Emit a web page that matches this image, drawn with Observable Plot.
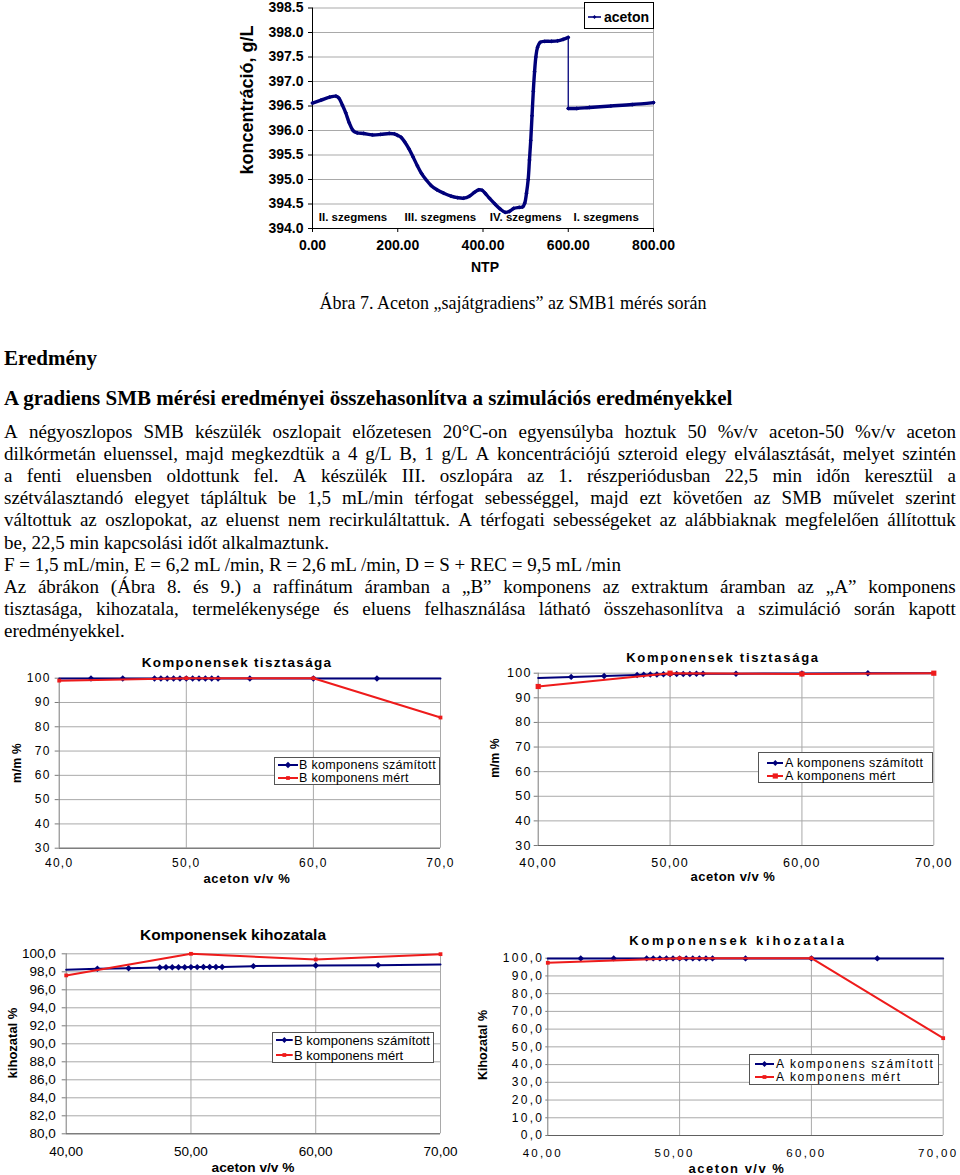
<!DOCTYPE html>
<html><head><meta charset="utf-8">
<script src="https://cdn.jsdelivr.net/npm/d3@7"></script>
<script src="https://cdn.jsdelivr.net/npm/@observablehq/plot@0.6"></script>
<style>
html,body{margin:0;padding:0;background:#fff;}
#page{position:relative;width:960px;height:1175px;overflow:hidden;font-family:"Liberation Serif","Times New Roman",serif;color:#000;}
.abs{position:absolute;white-space:nowrap;}
.c{transform:translate(-50%,-50%);line-height:1;}
.r{transform:translate(-50%,-50%) rotate(-90deg);line-height:1;}
.lt{transform:translate(0,-50%);line-height:1;}
.sans{font-family:"Liberation Sans",Arial,Helvetica,sans-serif;}
.line{position:absolute;left:4px;width:952px;height:22px;line-height:22px;font-size:19px;white-space:nowrap;}
.j{display:flex;justify-content:space-between;}
.legend{position:absolute;background:#fff;box-sizing:border-box;}
</style></head><body><div id="page"></div>
<script>
// ---------- DATA ----------
// Figure 7: aceton concentration along the SMB (NTP)
const ntp = [0,20,40,55,62,70,78,86,95,105,120,140,160,180,192,200,208,216,226,236,246,256,266,278,292,308,325,340,355,368,380,390,398,405,415,428,440,452,462,472,485,493,498,502,506,509,512,515,518,521,524,528,534,545,560,575,588,600,600,620,650,700,750,800];
const aceton = [396.56,396.62,396.68,396.70,396.66,396.52,396.36,396.16,396.00,395.95,395.94,395.91,395.92,395.94,395.93,395.90,395.86,395.77,395.63,395.46,395.28,395.12,395.00,394.88,394.79,394.72,394.66,394.63,394.62,394.66,394.74,394.79,394.78,394.72,394.62,394.50,394.40,394.33,394.35,394.41,394.43,394.44,394.52,394.72,395.00,395.40,395.80,396.30,396.80,397.20,397.50,397.70,397.80,397.82,397.82,397.83,397.86,397.90,396.45,396.45,396.47,396.50,396.53,396.57];
const concTicks = [394,394.5,395,395.5,396,396.5,397,397.5,398,398.5];
const ntpTicks = [0,200,400,600,800];
const segLabels = ["II. szegmens","III. szegmens","IV. szegmens","I. szegmens"];
const segNTP = [95,300,500,689];

// Figures 8-9: aceton v/v % vs purity / yield
const acetonX = [40,42.5,45,47.5,48,48.5,49,49.5,50,50.5,51,51.5,52,52.5,55,60,65,70];
const measX = [40,50,60,70];
const purityBcalc = [99.9,99.9,99.9,99.9,99.9,99.9,99.9,99.9,99.9,99.9,99.9,99.9,99.9,99.9,99.9,99.9,99.9,99.9];
const purityBmeas = [99.0,100.0,100.0,83.8];
const purityAcalc = [98.1,98.5,98.9,99.3,99.4,99.5,99.5,99.6,99.7,99.7,99.7,99.7,99.8,99.8,99.8,99.9,99.95,100.0];
const purityAmeas = [94.6,100.0,99.7,100.0];
const yieldBcalc = [98.22,98.33,98.40,98.48,98.50,98.50,98.51,98.51,98.52,98.52,98.53,98.53,98.54,98.54,98.63,98.70,98.74,98.80];
const yieldBmeas = [97.6,100.0,99.37,99.96];
const yieldAcalc = [99.9,99.9,99.9,99.9,99.9,99.9,99.9,99.9,99.9,99.9,99.9,99.9,99.9,99.9,99.9,99.9,99.9,99.9];
const yieldAmeas = [97.4,100.0,100.0,54.9];
const xTicksSmall = [40,50,60,70];
const purityTicks = [30,40,50,60,70,80,90,100];
const yieldBTicks = [80,82,84,86,88,90,92,94,96,98,100];
const yieldATicks = [0,10,20,30,40,50,60,70,80,90,100];

// ---------- HELPERS ----------
const NAVY = "#00007a", RED = "#ee1b1b", GRID = "#a9a9a9", SANS = "'Liberation Sans', Arial, Helvetica, sans-serif";
const page = document.getElementById("page");
function addText(txt, x, y, o = {}) {
  const d = document.createElement("div");
  d.className = "abs " + (o.serif ? "" : "sans ") + (o.rot ? "r" : (o.left ? "lt" : "c"));
  d.style.left = x + "px"; d.style.top = y + "px";
  d.style.fontSize = (o.fs || 13) + "px";
  d.style.fontWeight = o.bold ? "bold" : "normal";
  d.style.letterSpacing = (o.ls || 0) + "px";
  d.textContent = txt;
  page.appendChild(d);
  return d;
}
function placeSvg(svg, left, top) {
  const w = document.createElement("div");
  w.style.position = "absolute"; w.style.left = left + "px"; w.style.top = top + "px";
  w.appendChild(svg); page.appendChild(w);
}
function symbolPath(name, r) {
  const t = name === "square" ? d3.symbolSquare2 : d3.symbolDiamond2;
  return d3.symbol(t, Math.PI * r * r)();
}
function legend(o) {
  const box = document.createElement("div");
  box.className = "legend";
  Object.assign(box.style, {left: o.l + "px", top: o.t + "px", width: o.w + "px", height: o.h + "px", border: "1px solid " + (o.border || "#555")});
  page.appendChild(box);
  o.rows.forEach(r => {
    const sw = o.sx1 - o.sx0;
    const s = d3.create("svg").attr("width", sw).attr("height", 10)
      .style("position", "absolute").style("left", o.sx0 + "px").style("top", (r.cy - 5) + "px");
    s.append("line").attr("x1", 0).attr("x2", sw).attr("y1", 5).attr("y2", 5).attr("stroke", r.color).attr("stroke-width", o.sw || 2);
    s.append("path").attr("transform", `translate(${sw / 2},5)`).attr("d", symbolPath(r.sym, r.r)).attr("fill", r.color);
    page.appendChild(s.node());
    addText(r.text, o.tx, r.cy, {fs: o.fs, ls: o.ls, bold: o.bold, left: true});
  });
}
const comma = (n) => (d) => d.toFixed(n).replace(".", ",");

// ---------- FIGURE 7 ----------
const series = ntp.map((x, i) => ({x, y: aceton[i]}));
const split = ntp.findIndex((x, i) => i > 0 && x === ntp[i - 1]);   // switching point (vertical jump)
const part = (d, i) => (i >= split ? 2 : 1);
const jump = [{x1: series[split - 1].x, y1: series[split - 1].y, x2: series[split].x, y2: series[split].y}];
const segData = segLabels.map((t, i) => ({t, x: segNTP[i]}));
const fig7 = Plot.plot({
  width: 460, height: 280, marginLeft: 82, marginRight: 37, marginTop: 7.5, marginBottom: 52,
  x: {domain: [0, 800]}, y: {domain: [394, 398.5]},
  style: {fontFamily: SANS, fontSize: "14px", fontWeight: "bold", background: "transparent", color: "#000", overflow: "visible"},
  marks: [
    Plot.gridY(concTicks, {stroke: GRID, strokeOpacity: 1}),
    Plot.ruleX([800], {stroke: GRID}),
    Plot.ruleX([0], {stroke: "#000"}),
    Plot.ruleY([394], {stroke: "#000"}),
    Plot.axisY(concTicks, {tickSize: 4, tickPadding: 5, tickFormat: d3.format(".1f"), label: null, fontWeight: "bold", fontSize: 14}),
    Plot.axisX(ntpTicks, {tickSize: 4, tickPadding: 8, tickFormat: d3.format(".2f"), label: null, fontWeight: "bold", fontSize: 14}),
    Plot.text(segData, {x: "x", y: () => 394.22, text: "t", fontSize: 11.5, fontWeight: "bold"}),
    Plot.link(jump, {x1: "x1", y1: "y1", x2: "x2", y2: "y2", stroke: NAVY, strokeWidth: 1.3}),
    Plot.line(series, {x: "x", y: "y", z: part, stroke: NAVY, strokeWidth: 3.4, curve: "catmull-rom"}),
    Plot.dot(series, {x: "x", y: "y", symbol: "diamond2", r: 1.9, fill: NAVY})
  ]
});
placeSvg(fig7, 230, 0);
addText("koncentráció, g/L", 247, 100, {fs: 18, bold: true, rot: true});
addText("NTP", 485, 267, {fs: 14, bold: true});
legend({l: 584, t: 2, w: 70, h: 27, border: "#000", sx0: 588, sx1: 601, tx: 604, fs: 14, bold: true, sw: 1.6,
  rows: [{cy: 17, color: NAVY, sym: "diamond", r: 1.7, text: "aceton"}]});

// ---------- SMALL CHARTS ----------
function smallChart(o) {
  const calc = acetonX.map((x, i) => ({x, y: o.calc[i]}));
  const meas = measX.map((x, i) => ({x, y: o.meas[i]}));
  const svg = Plot.plot({
    width: o.w, height: o.h, marginLeft: o.ml, marginRight: o.mr, marginTop: o.mt, marginBottom: o.mb,
    x: {domain: [40, 70]}, y: {domain: o.yd},
    style: {fontFamily: SANS, fontSize: o.fs + "px", background: "transparent", color: "#000", letterSpacing: o.ls + "px", overflow: "visible"},
    marks: [
      Plot.gridY(o.yticks, {stroke: GRID, strokeOpacity: 1}),
      Plot.gridX([50, 60, 70], {stroke: GRID, strokeOpacity: 1}),
      Plot.ruleX([40], {stroke: "#7a7a7a"}),
      Plot.ruleY([o.yd[0]], {stroke: "#606060"}),
      Plot.axisY(o.yticks, {tickSize: o.yts, tickPadding: o.ytp, tickFormat: o.yfmt, label: null, stroke: "#7a7a7a", fontSize: o.fs}),
      Plot.axisX(xTicksSmall, {tickSize: 0, tickPadding: o.xtp, tickFormat: o.xfmt, label: null, fontSize: o.xfs || o.fs, dx: o.xdx || 0}),
      Plot.line(calc, {x: "x", y: "y", stroke: NAVY, strokeWidth: 2}),
      Plot.dot(calc.filter(d => d.x > 40 && d.x < 70), {x: "x", y: "y", symbol: "diamond2", r: 2.9, fill: NAVY}),
      Plot.line(meas, {x: "x", y: "y", stroke: RED, strokeWidth: 2}),
      Plot.dot(meas, {x: "x", y: "y", symbol: "square2", r: o.sq, fill: RED})
    ]
  });
  placeSvg(svg, o.left, o.top);
}

// Ábra 8 left: B purity
smallChart({left: 0, top: 650, w: 470, h: 240, ml: 58.7, mr: 30, mt: 27.7, mb: 42.3, yd: [30, 100], yticks: purityTicks,
  yfmt: d3.format("d"), xfmt: comma(1), fs: 12, ls: 1.3, yts: 4, ytp: 4.5, xtp: 10, sq: 2.4, calc: purityBcalc, meas: purityBmeas});
addText("Komponensek tisztasága", 237, 663, {fs: 13.5, bold: true, ls: 1.3});
addText("aceton v/v %", 247, 878, {fs: 13, bold: true, ls: 0.7});
addText("m/m %", 17, 763, {fs: 12, bold: true, ls: 0.3, rot: true});
legend({l: 274, t: 757, w: 166, h: 28, sx0: 277.7, sx1: 297.7, tx: 299, fs: 12.5, ls: 0.3,
  rows: [{cy: 764.5, color: NAVY, sym: "diamond", r: 2.9, text: "B komponens számított"},
         {cy: 777.5, color: RED, sym: "square", r: 2.4, text: "B komponens mért"}]});

// Ábra 8 right: A purity
smallChart({left: 470, top: 645, w: 490, h: 245, ml: 67.7, mr: 26.7, mt: 27.7, mb: 45, yd: [30, 100], yticks: purityTicks,
  yfmt: d3.format("d"), xfmt: comma(2), fs: 12.5, ls: 1.3, yts: 4, ytp: 2.5, xtp: 12.5, sq: 3.3, calc: purityAcalc, meas: purityAmeas});
addText("Komponensek tisztasága", 723, 657, {fs: 13, bold: true, ls: 1.7});
addText("aceton v/v %", 733, 876, {fs: 13, bold: true, ls: 0.5});
addText("m/m %", 495, 758, {fs: 12, bold: true, ls: 0.2, rot: true});
legend({l: 758, t: 752, w: 175, h: 31, sx0: 766.7, sx1: 783.3, tx: 785, fs: 12.5, ls: 0.4,
  rows: [{cy: 762.5, color: NAVY, sym: "diamond", r: 2.6, text: "A komponens számított"},
         {cy: 775.5, color: RED, sym: "square", r: 3.3, text: "A komponens mért"}]});

// Ábra 9 left: B yield
smallChart({left: 0, top: 920, w: 470, h: 255, ml: 65.7, mr: 30, mt: 33.3, mb: 41.7, yd: [80, 100], yticks: yieldBTicks,
  yfmt: comma(1), xfmt: comma(2), fs: 13.5, ls: 0, yts: 4, ytp: 6.5, xtp: 12.8, sq: 2.4, calc: yieldBcalc, meas: yieldBmeas});
addText("Komponensek kihozatala", 233, 935, {fs: 15.5, bold: true});
addText("aceton v/v %", 253, 1168, {fs: 13.7, bold: true});
addText("kihozatal %", 12, 1043, {fs: 13, bold: true, rot: true});
legend({l: 272, t: 1032, w: 162, h: 31, sx0: 276, sx1: 292.7, tx: 294, fs: 13, ls: 0,
  rows: [{cy: 1039.5, color: NAVY, sym: "diamond", r: 2.6, text: "B komponens számított"},
         {cy: 1054.5, color: RED, sym: "square", r: 2.4, text: "B komponens mért"}]});

// Ábra 9 right: A yield
smallChart({left: 470, top: 920, w: 490, h: 255, ml: 77.3, mr: 17.3, mt: 37.7, mb: 40, yd: [0, 100], yticks: yieldATicks,
  yfmt: comma(1), xfmt: comma(2), fs: 12, xfs: 11.5, ls: 2.3, yts: 2, ytp: 1.5, xtp: 12.9, xdx: -5, sq: 2.4, calc: yieldAcalc, meas: yieldAmeas});
addText("Komponensek kihozatala", 738, 940, {fs: 13, bold: true, ls: 2.8});
addText("aceton v/v %", 737, 1168, {fs: 13, bold: true, ls: 1.5});
addText("Kihozatal %", 483, 1045, {fs: 12.5, bold: true, rot: true});
legend({l: 749, t: 1054, w: 190, h: 31, sx0: 755, sx1: 774, tx: 776, fs: 12, ls: 1.6,
  rows: [{cy: 1063.5, color: NAVY, sym: "diamond", r: 2.6, text: "A komponens számított"},
         {cy: 1077, color: RED, sym: "square", r: 2.4, text: "A komponens mért"}]});

// ---------- DOCUMENT TEXT ----------
addText("Ábra 7. Aceton „sajátgradiens” az SMB1 mérés során", 513, 303, {fs: 18, serif: true});
addText("Eredmény", 4, 358, {fs: 21, bold: true, serif: true, left: true});
addText("A gradiens SMB mérési eredményei összehasonlítva a szimulációs eredményekkel", 4, 398, {fs: 21, bold: true, serif: true, left: true});
const para = [
  ["A négyoszlopos SMB készülék oszlopait előzetesen 20°C-on egyensúlyba hoztuk 50 %v/v aceton-50 %v/v aceton", true],
  ["dilkórmetán eluenssel, majd megkezdtük a 4 g/L B, 1 g/L A koncentrációjú szteroid elegy elválasztását, melyet szintén", true],
  ["a fenti eluensben oldottunk fel. A készülék III. oszlopára az 1. részperiódusban 22,5 min időn keresztül a", true],
  ["szétválasztandó elegyet tápláltuk be 1,5 mL/min térfogat sebességgel, majd ezt követően az SMB művelet szerint", true],
  ["váltottuk az oszlopokat, az eluenst nem recirkuláltattuk. A térfogati sebességeket az alábbiaknak megfelelően állítottuk", true],
  ["be, 22,5 min kapcsolási időt alkalmaztunk.", false],
  ["F = 1,5 mL/min, E = 6,2 mL /min, R = 2,6 mL /min, D = S + REC = 9,5 mL /min", false],
  ["Az ábrákon (Ábra 8. és 9.) a raffinátum áramban a „B” komponens az extraktum áramban az „A” komponens", true],
  ["tisztasága, kihozatala, termelékenysége és eluens felhasználása látható összehasonlítva a szimuláció során kapott", true],
  ["eredményekkel.", false]
];
para.forEach(([t, just], i) => {
  const d = document.createElement("div");
  d.className = "line" + (just ? " j" : "");
  d.style.top = (432 + i * 22.1 - 11) + "px";
  if (just) {
    t.split(" ").forEach(w => { const s = document.createElement("span"); s.textContent = w; d.appendChild(s); });
  } else d.textContent = t;
  page.appendChild(d);
});
</script></body></html>
